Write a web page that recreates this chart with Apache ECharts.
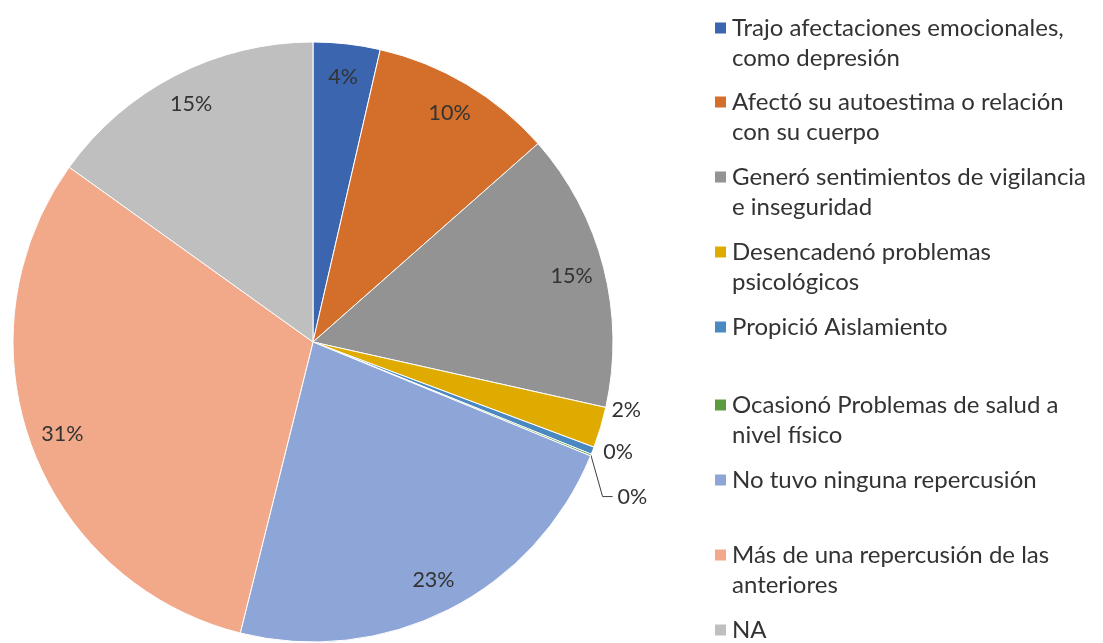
<!DOCTYPE html>
<html>
<head>
<meta charset="utf-8">
<script src="https://cdn.jsdelivr.net/npm/echarts@6/dist/echarts.min.js"></script>
<style>
html,body{margin:0;padding:0;background:#fff;}
#c{width:1103px;height:643px;}
</style>
</head>
<body>
<div id="c"></div>
<script>
// Categories (legend text, wrapped as in the original)
const categories = [
  'Trajo afectaciones emocionales,\ncomo depresión',
  'Afectó su autoestima o relación\ncon su cuerpo',
  'Generó sentimientos de vigilancia\ne inseguridad',
  'Desencadenó problemas\npsicológicos',
  'Propició Aislamiento',
  'Ocasionó Problemas de salud a\nnivel físico',
  'No tuvo ninguna repercusión',
  'Más de una repercusión de las\nanteriores',
  'NA'
];
// Percent values
const values = [3.6, 9.9, 15.0, 2.2, 0.4, 0.1, 22.7, 31.0, 15.1];
const colors = ['#3C65AF', '#D36F2B', '#939393', '#E0AB00', '#4A88C2', '#5E9A3E', '#8EA5D7', '#F1A98A', '#BFBFBF'];
// Which slices have their label outside the pie
const outsideLabel = [false, false, false, true, true, true, false, false, false];

const FONT = 'Lato';
const TXT = '#333333';

const mainData = categories.map((n, i) => ({
  name: n, value: values[i], itemStyle: { color: colors[i] }
}));
const labelData = categories.map((n, i) => ({
  name: n, value: values[i],
  label: outsideLabel[i] ? { position: 'outside' } : { position: 'inside' },
  labelLine: i === 5 ? { show: true, length: 4, length2: 10 } : { show: false, length: 4, length2: 2 }
}));

const legendCenters = [28, 102, 177, 252, 327, 405, 480, 555, 630];
const legends = categories.map((n, i) => {
  const twoLine = n.indexOf('\n') >= 0;
  return {
    data: [n],
    orient: 'vertical',
    left: 713,
    top: legendCenters[i] - (twoLine ? 45 : 15),
    padding: 0,
    itemWidth: 13,
    itemHeight: 13,
    icon: 'rect',
    selectedMode: false,
    formatter: function (name) { return name.indexOf('\n') >= 0 ? '\n' + name : name; },
    textStyle: { fontFamily: FONT, fontSize: 24, color: TXT, lineHeight: 30 }
  };
});

// label nudges for the tiny slices (like the original's manual placement)
const labelShift = { 3: [0, -19], 5: [8, 40] };

const chart = echarts.init(document.getElementById('c'));
chart.setOption({
  animation: false,
  backgroundColor: '#fff',
  legend: legends,
  series: [
    {
      type: 'pie',
      center: [313, 342],
      radius: [0, 300],
      startAngle: 90,
      clockwise: true,
      silent: true,
      label: { show: false },
      labelLine: { show: false },
      itemStyle: { borderColor: '#fff', borderWidth: 1 },
      data: mainData
    },
    {
      type: 'pie',
      center: [313, 342],
      radius: [228, 300],
      startAngle: 90,
      clockwise: true,
      silent: true,
      avoidLabelOverlap: false,
      minShowLabelAngle: 0,
      itemStyle: { color: 'rgba(0,0,0,0)' },
      label: {
        show: true,
        fontFamily: FONT, fontSize: 21.5, color: TXT,
        formatter: p => Math.round(p.value) + '%'
      },
      labelLine: { lineStyle: { color: '#404040', width: 1 } },
      labelLayout: function (p) {
        const s = labelShift[p.dataIndex];
        if (!s) return {};
        const out = { dx: s[0], dy: s[1] };
        const pts = p.labelLinePoints;
        if (pts && pts.length === 3) {
          out.labelLinePoints = [
            pts[0],
            [pts[1][0] + s[0], pts[1][1] + s[1]],
            [pts[2][0] + s[0], pts[2][1] + s[1]]
          ];
        }
        return out;
      },
      data: labelData
    }
  ]
});
</script>
</body>
</html>
